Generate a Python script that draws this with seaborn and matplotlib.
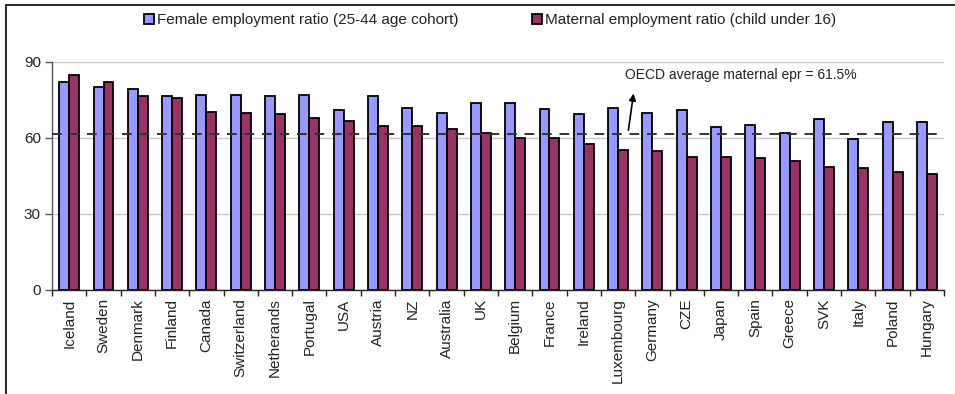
import matplotlib
matplotlib.use("Agg")
import matplotlib.pyplot as plt
from matplotlib.lines import Line2D
from matplotlib.ticker import FixedLocator
import numpy as np
import pandas as pd
import seaborn as sns

countries = ["Iceland", "Sweden", "Denmark", "Finland", "Canada", "Switzerland",
             "Netherands", "Portugal", "USA", "Austria", "NZ", "Australia", "UK",
             "Belgium", "France", "Ireland", "Luxembourg", "Germany", "CZE", "Japan",
             "Spain", "Greece", "SVK", "Italy", "Poland", "Hungary"]
female_epr = [82.2, 79.9, 79.3, 76.6, 77.0, 77.0, 76.6, 77.0, 71.1, 76.6, 71.9, 69.7, 73.7,
              73.7, 71.4, 69.3, 71.9, 69.7, 71.1, 64.2, 64.9, 62.1, 67.5, 59.5, 66.1, 66.1]
maternal_epr = [84.9, 82.2, 76.6, 75.8, 70.4, 69.7, 69.3, 67.9, 66.7, 64.6, 64.6, 63.4, 61.8,
                59.9, 59.9, 57.4, 55.3, 54.9, 52.6, 52.4, 52.0, 50.9, 48.4, 48.0, 46.6, 45.8]
series_names = ["Female employment ratio (25-44 age cohort)",
                "Maternal employment ratio (child under 16)"]
oecd_avg = 61.5
y_ticks = [0, 30, 60, 90]

df = pd.DataFrame({
    "country": countries * 2,
    "value": female_epr + maternal_epr,
    "series": [series_names[0]] * len(countries) + [series_names[1]] * len(countries),
})

sns.set_theme(style="white")
plt.rcParams["font.family"] = ["Liberation Sans", "DejaVu Sans"]

fig = plt.figure(figsize=(9.55, 3.94), dpi=100)
ax = fig.add_axes([0.0545, 0.264, 0.934, 0.579])

palette = {series_names[0]: "#9999FF", series_names[1]: "#993366"}
sns.barplot(data=df, x="country", y="value", hue="series", order=countries,
            hue_order=series_names, palette=palette, width=0.58, gap=0,
            edgecolor="black", linewidth=1.3, saturation=1, ax=ax, legend=True)

ax.set_xlim(-0.5, len(countries) - 0.5)
ax.set_ylim(0, 90)
ax.set_yticks(y_ticks)
ax.set_xlabel("")
ax.set_ylabel("")
ax.yaxis.grid(True, color="#c8c8c8", linewidth=1)
ax.set_axisbelow(True)

for side in ["top", "right"]:
    ax.spines[side].set_visible(False)
ax.spines["left"].set_color("#555555")
ax.spines["bottom"].set_color("#222222")
ax.spines["left"].set_linewidth(1)
ax.spines["bottom"].set_linewidth(1)

ax.tick_params(axis="y", which="major", left=True, length=5, width=1,
               color="#555555", labelsize=11, labelcolor="#222222", pad=3)
ax.tick_params(axis="x", which="major", bottom=False, length=0,
               labelsize=11, labelcolor="#222222", pad=6)
ax.xaxis.set_minor_locator(FixedLocator(np.arange(len(countries) + 1) - 0.5))
ax.tick_params(axis="x", which="minor", bottom=True, length=4, width=1, color="#222222")
plt.setp(ax.get_xticklabels(), rotation=90)

# OECD average line with its note
ax.axhline(oecd_avg, color="#333333", linewidth=1.4, linestyle=(0, (5, 4)), zorder=3)
ax.text(16.2, 84.9, f"OECD average maternal epr = {oecd_avg}%", fontsize=10,
        color="#222222", va="center", ha="left")
ax.annotate("", xy=(16.45, 77.5), xytext=(16.3, oecd_avg + 1.5),
            arrowprops=dict(arrowstyle="-|>", color="black", lw=1.2,
                            mutation_scale=10, shrinkA=0, shrinkB=0))

handles, labels = ax.get_legend_handles_labels()
ax.get_legend().remove()
fig.legend(handles, labels, loc="center", bbox_to_anchor=(0.513, 0.949), ncol=2,
           frameon=False, fontsize=11, handlelength=0.65, handleheight=0.65,
           handletextpad=0.2, columnspacing=4.8, labelcolor="#222222")

# frame around the chart
fig.add_artist(Line2D([6 / 955, 1], [1 - 5 / 394, 1 - 5 / 394], transform=fig.transFigure,
                      color="black", linewidth=1.2))
fig.add_artist(Line2D([6 / 955, 6 / 955], [0, 1 - 5 / 394], transform=fig.transFigure,
                      color="black", linewidth=1.2))

fig.savefig("out.png", dpi=100, facecolor="white")
